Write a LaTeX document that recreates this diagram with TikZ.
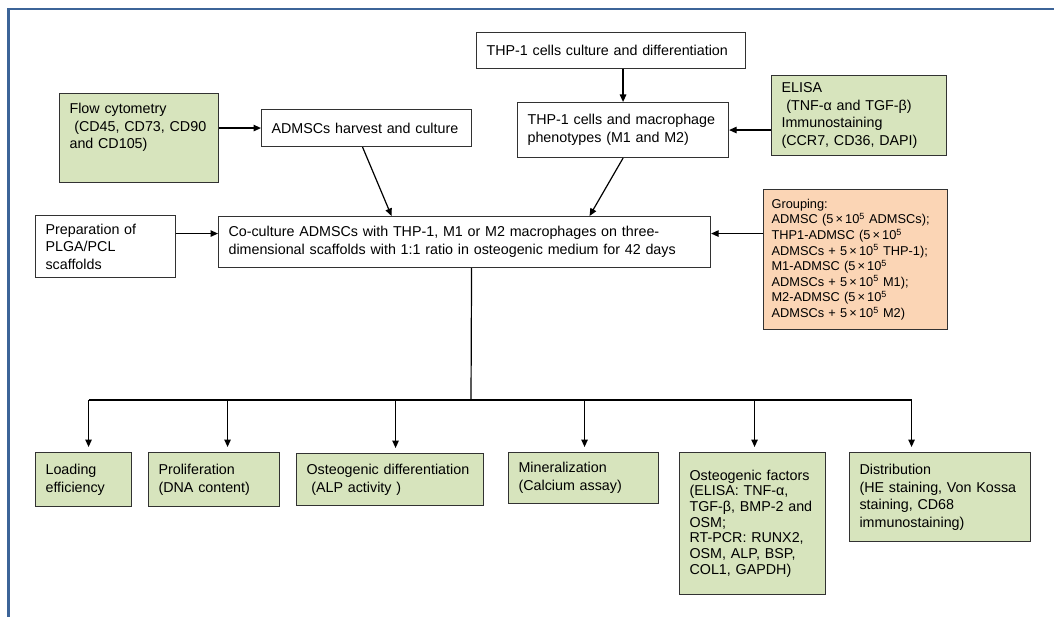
\documentclass[tikz,border=0pt]{standalone}
\usepackage{fontspec}
\setmainfont{Liberation Sans}
\usepackage{xcolor}
\definecolor{framblue}{RGB}{60, 100, 152}
\definecolor{boxgreen}{RGB}{215, 228, 189}
\definecolor{boxpeach}{RGB}{251, 213, 181}
\definecolor{boxline}{RGB}{50, 50, 50}
\usetikzlibrary{arrows.meta}
\newcommand{\fivee}{5\,×\,10\textsuperscript{5}}

\begin{document}
\begin{tikzpicture}[
    x=1pt, y=-1pt,
    every node/.style={font=\fontsize{14.3}{17.5}\selectfont},
    stage/.style={rectangle, anchor=north west, draw=boxline, line width=1.1pt, fill=white, align=left, inner xsep=10pt, inner ysep=0pt},
    assay/.style={stage, fill=boxgreen},
    groups/.style={stage, fill=boxpeach},
    arrow/.style={line width=1.2pt, -{Triangle[length=7.5pt,width=6.5pt]}, black},
    link/.style={line width=1.2pt, black}
]
\useasboundingbox (0,0) rectangle (1054,617);
\draw[framblue, line width=2.6pt] (8.5,620) -- (8.5,9) -- (1058,9);

% Nodes
\node (thpcult) [stage, minimum width=269pt, minimum height=36pt, text width=249pt] at (476,32) {THP-1 cells culture and differentiation};
\node (thpmac) [stage, minimum width=211pt, minimum height=55pt, text width=191pt] at (517,102) {THP-1 cells and macrophage\\phenotypes (M1 and M2)};
\node (elisa) [assay, minimum width=175pt, minimum height=80pt, text width=155pt] at (771,75) {ELISA\\~(TNF-α and TGF-β)\\Immunostaining\\(CCR7, CD36, DAPI)};
\node (flow) [assay, minimum width=159pt, minimum height=89pt, text width=139pt] at (59,93) {Flow cytometry\\~(CD45, CD73, CD90\\and CD105)\\[6pt]\mbox{}};
\node (harvest) [stage, minimum width=210pt, minimum height=37pt, text width=190pt] at (261,109) {ADMSCs harvest and culture};
\node (prep) [stage, minimum width=140pt, minimum height=62pt, text width=120pt] at (35,215) {Preparation of\\PLGA/PCL\\scaffolds};
\node (cocult) [stage, minimum width=492pt, minimum height=51pt, text width=472pt] at (218,216) {Co-culture ADMSCs with THP-1, M1 or M2 macrophages on three-\\dimensional scaffolds with 1:1 ratio in osteogenic medium for 42 days};
\node (group) [groups, minimum width=184pt, minimum height=140pt, text width=168pt, inner xsep=8pt, font=\fontsize{12.8}{15.6}\selectfont] at (763,189) {Grouping:\\ADMSC (\fivee{} ADMSCs);\\THP1-ADMSC (\fivee\\ADMSCs + \fivee{} THP-1);\\M1-ADMSC (\fivee\\ADMSCs + \fivee{} M1);\\M2-ADMSC (\fivee\\ADMSCs + \fivee{} M2)};

\node (loading) [assay, minimum width=96pt, minimum height=54pt, text width=76pt] at (35,452) {Loading\\efficiency};
\node (prolif) [assay, minimum width=131pt, minimum height=54pt, text width=111pt] at (148,452) {Proliferation\\(DNA content)};
\node (osteo) [assay, minimum width=187pt, minimum height=52pt, text width=167pt] at (296,453) {Osteogenic differentiation\\~(ALP activity )};
\node (mineral) [assay, minimum width=150pt, minimum height=51pt, text width=130pt] at (508,452) {Mineralization\\(Calcium assay)};
\node (factors) [assay, minimum width=146pt, minimum height=142pt, text width=126pt, font=\fontsize{14.3}{15.7}\selectfont] at (679,452) {Osteogenic factors\\(ELISA: TNF-α,\\TGF-β, BMP-2 and\\OSM;\\RT-PCR: RUNX2,\\OSM, ALP, BSP,\\COL1, GAPDH)};
\node (distrib) [assay, minimum width=181pt, minimum height=89pt, text width=161pt] at (849,452) {Distribution\\(HE staining, Von Kossa\\staining, CD68\\immunostaining)};

% Arrows
\draw [arrow] (flow.east |- harvest.west) -- (harvest.west);
\draw [arrow] (thpcult.south -| thpmac.north) -- (thpmac.north);
\draw [arrow] (elisa.west |- thpmac.east) -- (thpmac.east);
\draw [arrow] ([xshift=-4pt]harvest.south) -- ([xshift=-73pt]cocult.north);
\draw [arrow] (thpmac.south) -- ([xshift=125pt]cocult.north);
\draw [arrow] ([yshift=13pt]prep.east) -- ([yshift=13pt]prep.east -| cocult.west);
\draw [arrow] ([yshift=8.5pt]cocult.east -| group.west) -- ([yshift=8.5pt]cocult.east);

% Branches
\coordinate (bus) at (471,400);
\draw [link] ([xshift=7pt]cocult.south) -- (bus);
\draw [link] ([xshift=5pt]loading.north |- bus) -- ([xshift=-28.5pt]distrib.north |- bus);
\foreach \target/\offset in {loading/5, prolif/13.5, osteo/5.5, mineral/1, factors/2, distrib/-28.5}
    \draw [arrow, shorten >=5pt] ([xshift=\offset pt]\target.north |- bus) -- ([xshift=\offset pt]\target.north);

\end{tikzpicture}
\end{document}
